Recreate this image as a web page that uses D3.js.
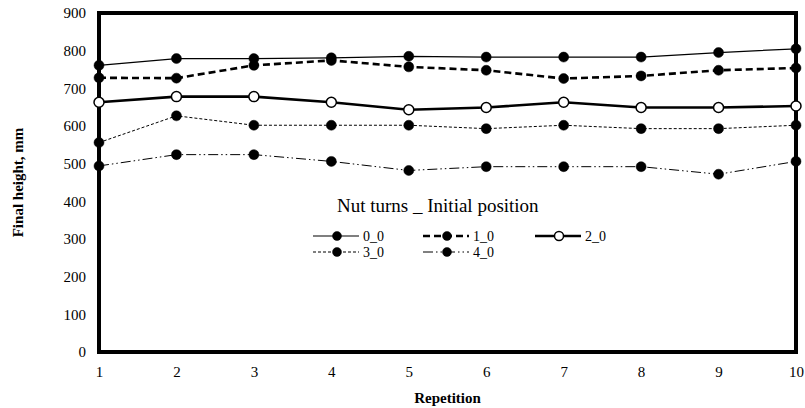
<!DOCTYPE html>
<html>
<head>
<meta charset="utf-8">
<script src="https://cdn.jsdelivr.net/npm/d3@7"></script>
<style>
  body { margin: 0; background: #fff; }
  svg text { font-family: "Liberation Serif", Tinos, "Times New Roman", "DejaVu Serif", serif !important; fill: #000; }
</style>
</head>
<body>
<div class="chart"></div>
<script>
// Repetition numbers (x axis)
const repetitions = [1, 2, 3, 4, 5, 6, 7, 8, 9, 10];

// Final height (mm) for each "nut turns _ initial position" case
const h00 = [761, 779, 779, 781, 785, 783, 783, 783, 795, 805];
const h10 = [728, 727, 761, 774, 757, 748, 726, 733, 748, 754];
const h20 = [663, 678, 678, 663, 643, 649, 663, 649, 649, 653];
const h30 = [556, 627, 602, 602, 602, 593, 602, 593, 593, 602];
const h40 = [494, 524, 524, 506, 482, 492, 492, 492, 472, 506];

const seriesNames = ["0_0", "1_0", "2_0", "3_0", "4_0"];
const yTicks = [0, 100, 200, 300, 400, 500, 600, 700, 800, 900];

// line styles per series
const styles = [
    {width: 1.2, dash: null, hollow: false},
    {width: 2.6, dash: "7,4", hollow: false},
    {width: 2.6, dash: null, hollow: true},
    {width: 1, dash: "3,2", hollow: false},
    {width: 1, dash: "10,3,1.5,3,1.5,3", hollow: false}
];

const allSeries = [h00, h10, h20, h30, h40];

const width = 805, height = 408;
const margin = {top: 13, right: 9, bottom: 56, left: 99};
const serif = '"Liberation Serif", Tinos, "Times New Roman", "DejaVu Serif", serif';

const svg = d3.select(".chart").append("svg")
    .attr("width", width)
    .attr("height", height)
    .attr("font-family", serif);

const xScale = d3.scaleLinear()
    .domain([1, 10])
    .range([margin.left, width - margin.right]);

const yScale = d3.scaleLinear()
    .domain([0, 900])
    .range([height - margin.bottom, margin.top]);

const line = d3.line()
    .x((d, i) => xScale(repetitions[i]))
    .y(d => yScale(d));

// series lines
allSeries.forEach((values, s) => {
    svg.append("path")
        .datum(values)
        .attr("fill", "none")
        .attr("stroke", "#000")
        .attr("stroke-width", styles[s].width)
        .attr("stroke-dasharray", styles[s].dash)
        .attr("d", line);
});

// axes frame (thick border)
svg.append("rect")
    .attr("x", xScale(1))
    .attr("y", yScale(900))
    .attr("width", xScale(10) - xScale(1))
    .attr("height", yScale(0) - yScale(900))
    .attr("fill", "none")
    .attr("stroke", "#000")
    .attr("stroke-width", 4);

// markers on top of the frame
allSeries.forEach((values, s) => {
    svg.append("g").selectAll("circle")
        .data(values)
        .join("circle")
        .attr("cx", (d, i) => xScale(repetitions[i]))
        .attr("cy", d => yScale(d))
        .attr("r", 5)
        .attr("fill", styles[s].hollow ? "#fff" : "#000")
        .attr("stroke", "#000")
        .attr("stroke-width", styles[s].hollow ? 1.5 : 0.5);
});

// y axis
const yAxis = svg.append("g")
    .attr("transform", `translate(${margin.left},0)`)
    .call(d3.axisLeft(yScale).tickValues(yTicks).tickSize(0).tickPadding(13));
yAxis.attr("font-family", serif).attr("font-size", 15);
yAxis.select(".domain").remove();

// x axis
const xAxis = svg.append("g")
    .attr("transform", `translate(0,${height - margin.bottom})`)
    .call(d3.axisBottom(xScale).tickValues(repetitions).tickSize(0).tickPadding(14));
xAxis.attr("font-family", serif).attr("font-size", 15);
xAxis.select(".domain").remove();

// axis titles
svg.append("text")
    .attr("x", (xScale(1) + xScale(10)) / 2)
    .attr("y", 403)
    .attr("text-anchor", "middle")
    .attr("font-weight", "bold")
    .attr("font-size", 15)
    .text("Repetition");

svg.append("text")
    .attr("transform", `translate(23,${(yScale(0) + yScale(900)) / 2}) rotate(-90)`)
    .attr("text-anchor", "middle")
    .attr("font-weight", "bold")
    .attr("font-size", 15)
    .text("Final height, mm");

// legend
svg.append("text")
    .attr("x", 337)
    .attr("y", 212)
    .attr("font-size", 19)
    .text("Nut turns _ Initial position");

const legendPos = [
    {x: 313, y: 236},
    {x: 423, y: 236},
    {x: 535, y: 236},
    {x: 313, y: 252},
    {x: 423, y: 252}
];

seriesNames.forEach((name, s) => {
    const p = legendPos[s];
    const g = svg.append("g").attr("transform", `translate(${p.x},${p.y})`);
    g.append("line")
        .attr("x1", 0).attr("x2", 46)
        .attr("y1", 0).attr("y2", 0)
        .attr("stroke", "#000")
        .attr("stroke-width", styles[s].width)
        .attr("stroke-dasharray", styles[s].dash);
    g.append("circle")
        .attr("cx", 24).attr("cy", 0).attr("r", 4.5)
        .attr("fill", styles[s].hollow ? "#fff" : "#000")
        .attr("stroke", "#000")
        .attr("stroke-width", styles[s].hollow ? 1.5 : 0.5);
    g.append("text")
        .attr("x", 50)
        .attr("y", 5)
        .attr("font-size", 14)
        .text(name);
});
</script>
</body>
</html>
